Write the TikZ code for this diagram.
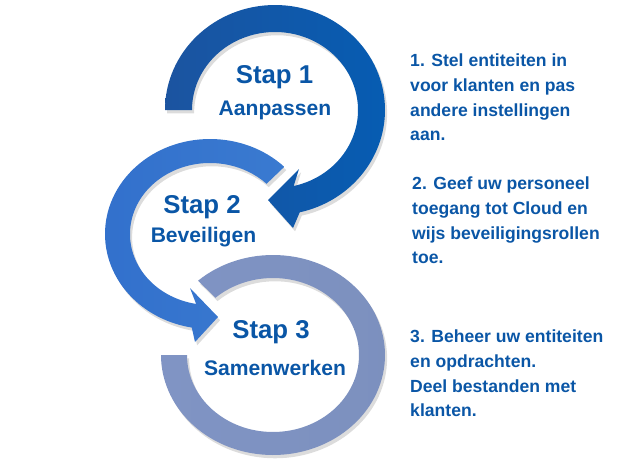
\documentclass[tikz,border=0pt]{standalone}
\usepackage{fontspec}
\setmainfont{Liberation Sans}
\usetikzlibrary{calc,shadows}
\definecolor{tekstblauw}{RGB}{10,86,166}
\definecolor{ringeenL}{RGB}{28,84,160}
\definecolor{ringeenR}{RGB}{6,92,178}
\definecolor{ringtweeL}{RGB}{50,112,204}
\definecolor{ringtweeM}{RGB}{42,125,226}
\definecolor{ringtweeR}{RGB}{58,122,208}
\definecolor{ringdrieL}{RGB}{128,148,196}
\definecolor{ringdrieM}{RGB}{140,166,218}
\definecolor{ringdrieR}{RGB}{124,144,190}
\begin{document}
\begin{tikzpicture}[x=0.03cm,y=0.03cm,
  stap/.style={text=tekstblauw,font=\fontsize{22}{26}\selectfont\bfseries,anchor=base,inner sep=0pt},
  onder/.style={text=tekstblauw,font=\fontsize{18}{22}\selectfont\bfseries,anchor=base,inner sep=0pt},
  uitleg/.style={text=tekstblauw,font=\fontsize{15}{21}\selectfont\bfseries,align=left,anchor=north west,inner sep=0pt},
  schaduw/.style={drop shadow={shadow xshift=1.8pt,shadow yshift=-2.8pt,opacity=0.28}}]
\useasboundingbox (0,0) rectangle (630,-469);

% ring 3, no arrow head
\coordinate (c3) at (273,-355);
\path [schaduw,left color=ringdrieL,middle color=ringdrieM,right color=ringdrieR] (c3) ++(132:112 and 100)
  arc [start angle=132, end angle=-180, x radius=112, y radius=100] -- ++(26,0)
  arc [start angle=-180, end angle=132, x radius=86, y radius=77] -- cycle;

% ring 2
\coordinate (c2) at (210,-234);
\coordinate (p2a) at (195,-342);
\coordinate (p2b) at (218,-317);
\coordinate (p2c) at (190,-288);
\path [schaduw,left color=ringtweeL,middle color=ringtweeM,right color=ringtweeR] (c2) ++(45:105 and 95)
  arc [start angle=45, end angle=260, x radius=105, y radius=95] -- (p2a) -- (p2b) -- (p2c)
  -- ($(c2)+(260:80 and 71)$)
  arc [start angle=260, end angle=45, x radius=80, y radius=71] -- cycle;

% ring 1
\coordinate (c1) at (275,-110);
\coordinate (p1a) at (293,-228);
\coordinate (p1b) at (268,-200);
\coordinate (p1c) at (299,-169);
\path [schaduw,left color=ringeenL,right color=ringeenR] (c1) ++(180:110 and 105)
  arc [start angle=180, end angle=-77, x radius=110, y radius=105] -- (p1a) -- (p1b) -- (p1c)
  -- ($(c1)+(-77:83 and 78)$)
  arc [start angle=-77, end angle=180, x radius=83, y radius=78] -- cycle;

\node [stap] (s1) at (274.5,-83) {Stap 1};
\node [onder] (n1) at (275,-115) {Aanpassen};
\node [stap] (s2) at (202,-213) {Stap 2};
\node [onder] (n2) at (203.5,-242) {Beveiligen};
\node [stap] (s3) at (271,-338) {Stap 3};
\node [onder] (n3) at (275,-375) {Samenwerken};

\node [uitleg] (u1) at (410,-54) {1. Stel entiteiten in\\voor klanten en pas\\andere instellingen\\aan.};
\node [uitleg] (u2) at (412,-177) {2. Geef uw personeel\\toegang tot Cloud en\\wijs beveiligingsrollen\\toe.};
\node [uitleg] (u3) at (410,-330) {3. Beheer uw entiteiten\\en opdrachten.\\Deel bestanden met\\klanten.};

\end{tikzpicture}
\end{document}
